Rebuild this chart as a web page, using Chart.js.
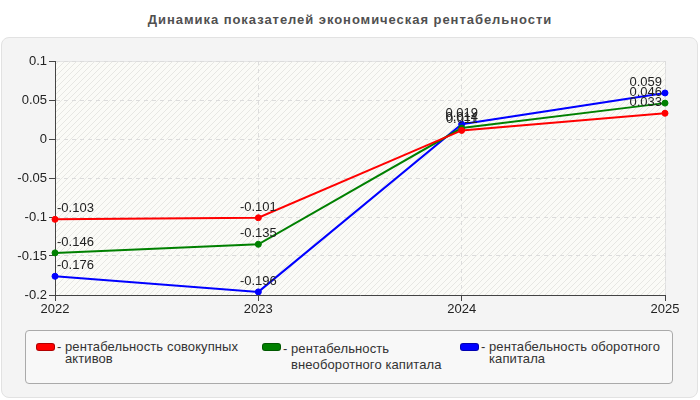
<!DOCTYPE html>
<html><head><meta charset="utf-8">
<script src="https://cdn.jsdelivr.net/npm/chart.js@4/dist/chart.umd.min.js"></script>
<style>
html,body{margin:0;padding:0;background:#fff;width:700px;height:400px;overflow:hidden;font-family:"Liberation Sans",Arial,sans-serif;}
#title{position:absolute;left:0;top:12px;width:700px;text-align:center;font-weight:bold;font-size:13px;letter-spacing:0.95px;color:#505050;}
#panel{position:absolute;left:1px;top:37px;width:695px;height:359px;background:#f4f4f4;border:1px solid #e2e2e2;border-radius:8px;}
#wrap{position:absolute;left:0;top:0;width:700px;height:320px;}
#legend{position:absolute;left:25px;top:330px;width:648px;height:54px;background:#f8f8f8;border:1px solid #aaa;border-radius:4px;box-sizing:border-box;}
.item{position:absolute;top:10px;font-size:13px;letter-spacing:0.1px;color:#333;line-height:12px;white-space:nowrap;}
.sw{position:absolute;left:0;top:2px;width:17px;height:6px;border-radius:3px;border:0.5px solid rgba(0,0,0,0.3);}
.tx{position:absolute;left:29px;top:0;}
.dash{position:absolute;left:21px;top:0;}
</style></head><body>
<div id="title">Динамика показателей экономическая рентабельности</div>
<div id="panel"></div>
<div id="wrap"><canvas id="c" width="700" height="320"></canvas></div>
<div id="legend"></div>
<script>
const categories = ["2022", "2023", "2024", "2025"];
const seriesNames = ["рентабельность совокупных активов", "рентабельность внеоборотного капитала", "рентабельность оборотного капитала"];
const totalAssets = [-0.103, -0.101, 0.011, 0.033];
const nonCurrentCapital = [-0.146, -0.135, 0.014, 0.046];
const currentCapital = [-0.176, -0.196, 0.019, 0.059];
const yTicks = [-0.2, -0.15, -0.1, -0.05, 0, 0.05, 0.1];
const colors = ["#ff0000", "#008000", "#0000ff"];
const legendLines = [["рентабельность совокупных","активов"],["рентабельность","внеоборотного капитала"],["рентабельность оборотного","капитала"]];

const bgPlugin = {
  id:'bg',
  beforeDraw(chart){
    const {ctx, chartArea:a} = chart;
    const p = document.createElement('canvas'); p.width=6; p.height=6;
    const pc = p.getContext('2d');
    pc.fillStyle='#fbfbf7'; pc.fillRect(0,0,6,6);
    pc.strokeStyle='rgba(0,0,0,0.08)'; pc.lineWidth=1;
    pc.beginPath(); pc.moveTo(0,6); pc.lineTo(6,0); pc.moveTo(-1,1); pc.lineTo(1,-1); pc.moveTo(5,7); pc.lineTo(7,5); pc.stroke();
    ctx.save(); ctx.fillStyle = ctx.createPattern(p,'repeat');
    ctx.fillRect(a.left,a.top,a.right-a.left,a.bottom-a.top);
    ctx.strokeStyle='#e4e4e4'; ctx.lineWidth=1;
    ctx.beginPath(); ctx.moveTo(a.left,a.top+0.5); ctx.lineTo(a.right+0.5,a.top+0.5); ctx.lineTo(a.right+0.5,a.bottom); ctx.stroke();
    ctx.restore();
  }
};
const labelPlugin = {
  id:'lbl',
  afterDatasetsDraw(chart){
    const ctx = chart.ctx;
    ctx.save();
    ctx.font = '13px "Liberation Sans", Arial, sans-serif';
    ctx.fillStyle = '#222';
    ctx.textBaseline = 'alphabetic';
    chart.data.datasets.forEach((ds,i)=>{
      const meta = chart.getDatasetMeta(i);
      meta.data.forEach((pt,j)=>{
        const n = meta.data.length;
        ctx.textAlign = j===0 ? 'left' : (j===n-1 ? 'right' : 'center');
        const dx = j===0 ? 2 : (j===n-1 ? -3 : 0);
        ctx.fillText(String(ds.data[j]), pt.x+dx, pt.y-7);
      });
    });
    ctx.restore();
  }
};
const datasets = [totalAssets, nonCurrentCapital, currentCapital].map((d,i)=>({
  label: seriesNames[i], data: d, borderColor: colors[i], backgroundColor: colors[i],
  borderWidth: 2, pointRadius: 3, pointBorderWidth: 1, pointHoverRadius: 3, tension: 0, fill:false
}));
new Chart(document.getElementById('c'), {
  type:'line',
  data:{labels:categories, datasets},
  options:{
    responsive:false, animation:false,
    layout:{padding:{left:0,right:35,top:61,bottom:0}},
    plugins:{legend:{display:false}, tooltip:{enabled:false}},
    scales:{
      x:{
        offset:false,
        grid:{color:'#dcdcdc', tickColor:'#444', tickLength:6, drawTicks:true},
        border:{color:'#444', dash:[4,4], display:true},
        ticks:{color:'#222', font:{size:13, family:'"Liberation Sans", Arial'}, padding:1, maxRotation:0},
        afterFit(s){ s.height = 25; }
      },
      y:{
        min:-0.2, max:0.1,
        afterBuildTicks(s){ s.ticks = yTicks.map(v=>({value:v})); },
        grid:{color:'#dcdcdc', tickColor:'#444', tickLength:6},
        border:{color:'#444', dash:[4,4]},
        ticks:{color:'#222', font:{size:13, family:'"Liberation Sans", Arial'}, padding:2, callback:v=>String(v)},
        afterFit(s){ s.width = 55; }
      }
    }
  },
  plugins:[bgPlugin,labelPlugin]
});
// HTML legend built from dataset names
const lg = document.getElementById('legend');
const lefts = [10, 236, 434];
const lineHeights = [12, 16, 12];
seriesNames.forEach((n,i)=>{
  const it = document.createElement('div'); it.className='item';
  it.style.left = lefts[i]+'px'; it.style.lineHeight = lineHeights[i]+'px';
  it.title = n;
  const sw = document.createElement('div'); sw.className='sw'; sw.style.background = colors[i];
  const da = document.createElement('div'); da.className='dash'; da.textContent='-';
  const tx = document.createElement('div'); tx.className='tx';
  tx.innerHTML = legendLines[i].join('<br>');
  it.appendChild(sw); it.appendChild(da); it.appendChild(tx); lg.appendChild(it);
});
</script>
</body></html>
